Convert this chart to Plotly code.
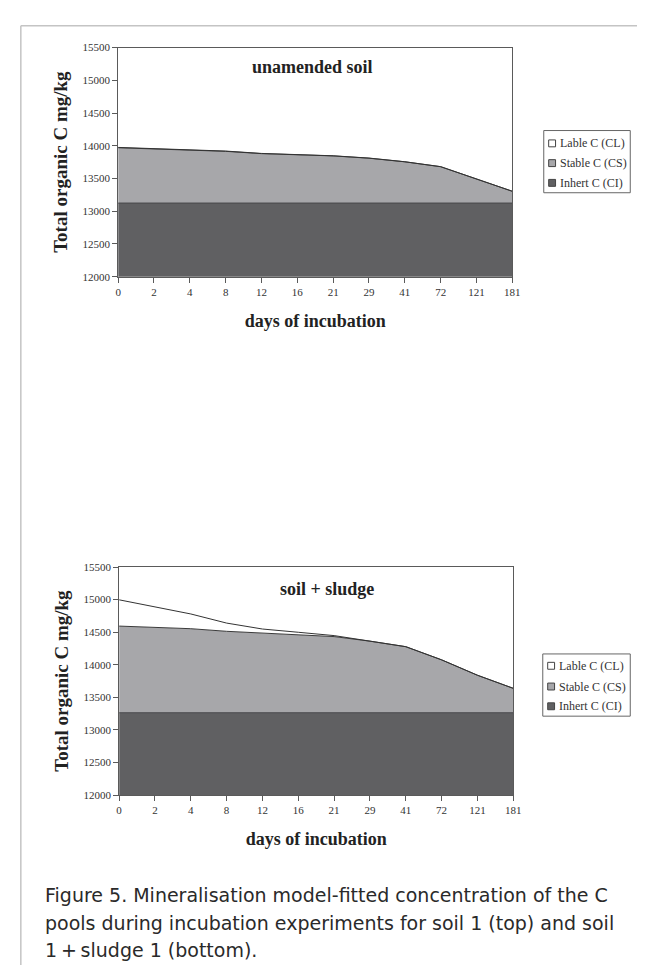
import plotly.graph_objects as go

# ---------------- data ----------------
days = ["0", "2", "4", "8", "12", "16", "21", "29", "41", "72", "121", "181"]

series_names = ["Inhert C (CI)", "Stable C (CS)", "Lable C (CL)"]

# unamended soil (top)
top_ci = [13125, 13125, 13125, 13125, 13125, 13125, 13125, 13125, 13125, 13125, 13125, 13125]
top_cs = [845, 830, 805, 790, 755, 740, 720, 685, 630, 555, 365, 180]
top_cl = [5, 5, 4, 4, 3, 3, 2, 2, 1, 1, 0, 0]

# soil + sludge (bottom)
bot_ci = [13265, 13265, 13265, 13265, 13265, 13265, 13265, 13265, 13265, 13265, 13265, 13265]
bot_cs = [1329, 1314, 1289, 1249, 1224, 1204, 1168, 1098, 1013, 811, 575, 374]
bot_cl = [403, 312, 226, 126, 60, 30, 15, 0, 0, 0, 0, 0]

y_ticks = [12000, 12500, 13000, 13500, 14000, 14500, 15000, 15500]

panel_titles = ["unamended soil", "soil + sludge"]
x_title = "days of incubation"
y_title = "Total organic C mg/kg"
caption = [
    "Figure 5. Mineralisation model-fitted concentration of the C",
    "pools during incubation experiments for soil 1 (top) and soil",
    "1\u2009+\u2009sludge 1 (bottom).",
]

# ---------------- style ----------------
W, H = 645, 965
fills = ["#606062", "#a7a7aa", "#ffffff"]
lines = ["#474749", "#3a3a3a", "#333333"]
SERIF = "Liberation Serif, Times New Roman, serif"


def px(v):
    return v / W


def py(v):
    return 1 - v / H


fig = go.Figure()

panels = [
    dict(x="x", y="y", data=[top_ci, top_cs, top_cl], stack="top",
         box=(109, 510, 34, 266), title_pos=(307, 54),
         legend=(542, 630, 118, 181), rows=[131, 151, 171]),
    dict(x="x2", y="y2", data=[bot_ci, bot_cs, bot_cl], stack="bot",
         box=(110, 511, 560, 791), title_pos=(321, 582),
         legend=(541, 630, 648, 711), rows=[660, 681, 701]),
]

annotations = []
shapes = []

for i, p in enumerate(panels):
    for k, vals in enumerate(p["data"]):
        fig.add_trace(go.Scatter(
            x=days, y=vals, xaxis=p["x"], yaxis=p["y"],
            stackgroup=p["stack"], mode="lines",
            line=dict(color=lines[k], width=1),
            fillcolor=fills[k], name=series_names[k], showlegend=False,
        ))
    x0, x1, y0, y1 = p["box"]
    sfx = "" if i == 0 else "2"
    fig.update_layout(**{
        "xaxis" + sfx: dict(
            domain=[px(x0), px(x1)], anchor="y" + sfx, type="category",
            range=[0, len(days) - 1], showgrid=False, zeroline=False,
            showline=True, linecolor="#5a5a5a", linewidth=1, mirror=True,
            ticks="outside", ticklen=5, tickcolor="#5a5a5a",
            tickfont=dict(family=SERIF, size=11, color="#333333"),
            title=dict(text=x_title, standoff=17,
                       font=dict(family=SERIF, size=18, color="#222222", weight="bold")),
        ),
        "yaxis" + sfx: dict(
            domain=[py(y1), py(y0)], anchor="x" + sfx,
            range=[12000, 15500], tickvals=y_ticks, tickformat="d",
            showgrid=False, zeroline=False,
            showline=True, linecolor="#5a5a5a", linewidth=1, mirror=True,
            ticks="outside", ticklen=5, tickcolor="#5a5a5a",
            tickfont=dict(family=SERIF, size=11, color="#333333"),
            title=dict(text=y_title, standoff=9,
                       font=dict(family=SERIF, size=19, color="#222222", weight="bold")),
        ),
    })
    tx, ty = p["title_pos"]
    annotations.append(dict(
        text=panel_titles[i], x=px(tx), y=py(ty), xref="paper", yref="paper",
        showarrow=False, xanchor="center", yanchor="middle",
        font=dict(family=SERIF, size=18, color="#222222", weight="bold"),
    ))
    # legend box
    lx0, lx1, ly0, ly1 = p["legend"]
    shapes.append(dict(type="rect", xref="paper", yref="paper",
                       x0=px(lx0), x1=px(lx1), y0=py(ly1), y1=py(ly0),
                       line=dict(color="#666666", width=1), fillcolor="white"))
    order = [2, 1, 0]
    for r, k in zip(p["rows"], order):
        shapes.append(dict(type="rect", xref="paper", yref="paper",
                           x0=px(lx0 + 5), x1=px(lx0 + 12), y0=py(r + 3.5), y1=py(r - 3.5),
                           line=dict(color="#444444", width=1), fillcolor=fills[k]))
        annotations.append(dict(
            text=series_names[k], x=px(lx0 + 14), y=py(r), xref="paper", yref="paper",
            showarrow=False, xanchor="left", yanchor="middle",
            font=dict(family=SERIF, size=12, color="#333333"),
        ))

# page frame
shapes.append(dict(type="line", xref="paper", yref="paper", x0=px(10), x1=1, y0=py(12), y1=py(12),
                   line=dict(color="#c4c4c4", width=1.5)))
shapes.append(dict(type="line", xref="paper", yref="paper", x0=px(10), x1=px(10), y0=py(12), y1=0,
                   line=dict(color="#c4c4c4", width=1.5)))

for j, line in enumerate(caption):
    annotations.append(dict(
        text=line, x=px(33), y=py(892 + 28 * j), xref="paper", yref="paper",
        showarrow=False, xanchor="left", yanchor="middle",
        font=dict(family="DejaVu Sans, sans-serif", size=19, color="#2a2a2a"),
    ))

fig.update_layout(
    width=W, height=H, margin=dict(l=0, r=0, t=0, b=0),
    paper_bgcolor="white", plot_bgcolor="white",
    showlegend=False, annotations=annotations, shapes=shapes,
)

fig.write_html("out.html")
